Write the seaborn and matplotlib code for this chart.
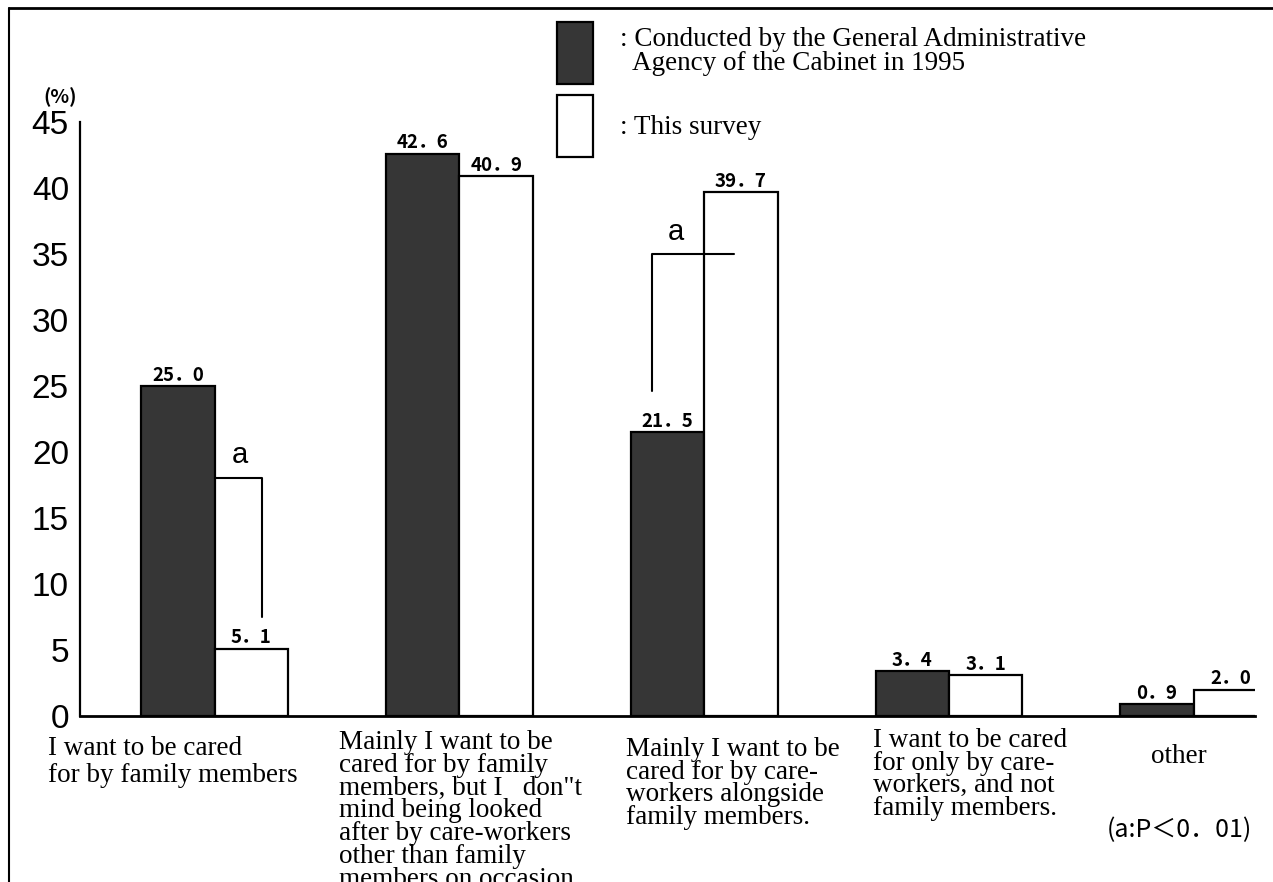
import numpy as np
import pandas as pd
import matplotlib
matplotlib.use("Agg")
import matplotlib.pyplot as plt
import seaborn as sns
from matplotlib.patches import Patch
from matplotlib.lines import Line2D

# data
cat_keys = ["family", "mainly_family", "mainly_care", "care_only", "other"]
cat_labels = [
    "I want to be cared\nfor by family members",
    "Mainly I want to be\ncared for by family\nmembers, but I   don\"t\nmind being looked\n"
    "after by care-workers\nother than family\nmembers on occasion.",
    "Mainly I want to be\ncared for by care-\nworkers alongside\nfamily members.",
    "I want to be cared\nfor only by care-\nworkers, and not\nfamily members.",
    "other",
]
cabinet_1995 = [25.0, 42.6, 21.5, 3.4, 0.9]
this_survey = [5.1, 40.9, 39.7, 3.1, 2.0]
series_names = ["cabinet", "survey"]
legend_labels = [": Conducted by the General Administrative\n  Agency of the Cabinet in 1995",
                 ": This survey"]
yticks = [0, 5, 10, 15, 20, 25, 30, 35, 40, 45]

df = pd.DataFrame({
    "category": cat_keys * 2,
    "series": [series_names[0]] * 5 + [series_names[1]] * 5,
    "value": cabinet_1995 + this_survey,
})

sns.set_style("white")
plt.rcParams["text.color"] = "black"
plt.rcParams["ytick.color"] = "black"
dark = "#363636"
serif = "Liberation Serif"
gothic = ["Noto Sans CJK JP", "DejaVu Sans"]

fig = plt.figure(figsize=(12.73, 8.82), dpi=100)
ax = fig.add_axes([80 / 1273, 1 - 716 / 882, 1175 / 1273, 594 / 882])

sns.barplot(data=df, x="category", y="value", hue="series", order=cat_keys,
            hue_order=series_names, palette=[dark, "white"], saturation=1,
            edgecolor="black", linewidth=1.6, width=0.6, legend=False, ax=ax)

ax.set_xlim(-0.55, 4.25)
ax.set_ylim(0, 45)
ax.set_yticks(yticks)
ax.set_yticklabels([str(t) for t in yticks], fontsize=24, family="Liberation Sans")
ax.tick_params(axis="y", direction="in", length=10, width=1.6, pad=8, colors="black")
ax.set_xticks([])
ax.set_xlabel("")
ax.set_ylabel("")
for s in ["top", "right"]:
    ax.spines[s].set_visible(False)
ax.spines["left"].set_linewidth(1.6)
ax.spines["bottom"].set_linewidth(2)
ax.spines["left"].set_color("black")
ax.spines["bottom"].set_color("black")

# value labels like "25．0"
for cont, vals in zip(ax.containers, [cabinet_1995, this_survey]):
    ax.bar_label(cont, labels=[f"{v:.1f}".replace(".", "．") for v in vals],
                 padding=1, fontsize=13.5, fontweight="bold", family=gothic)

# significance brackets
c_dark, c_white = ax.containers[0], ax.containers[1]
b, w = c_dark[0], c_white[0]
x0 = b.get_x() + b.get_width()
x1 = w.get_x() + 0.65 * w.get_width()
ax.plot([x0, x1, x1], [18, 18, 7.5], color="black", lw=1.5)
ax.text(w.get_x() + 0.35 * w.get_width(), 18.7, "a", fontsize=21,
        family="Liberation Sans", ha="center", va="bottom")

b, w = c_dark[2], c_white[2]
x0 = b.get_x() + 0.29 * b.get_width()
x1 = w.get_x() + 0.41 * w.get_width()
ax.plot([x0, x0, x1], [24.6, 35, 35], color="black", lw=1.5)
ax.text(b.get_x() + 0.62 * b.get_width(), 35.6, "a", fontsize=21,
        family="Liberation Sans", ha="center", va="bottom")

# category labels under the axis
trans = ax.get_xaxis_transform()
offsets = [-0.68, -0.49, -0.32, -0.31]
tops = [-0.034, -0.024, -0.035, -0.020]
spacing = [1.1, 0.88, 0.88, 0.88]
for i in range(4):
    ax.text(i + offsets[i], tops[i], cat_labels[i], transform=trans, ha="left",
            va="top", fontsize=19.5, family=serif, linespacing=spacing[i])
ax.text(4 - 0.06, -0.069, cat_labels[4], transform=trans, ha="center",
        va="center", fontsize=19.5, family=serif)
ax.text(0.936, -0.192, "(a:P＜0．01)", transform=ax.transAxes, ha="center",
        va="center", fontsize=18, family=gothic)
ax.text(-0.017, 1.042, "(%)", transform=ax.transAxes, ha="center",
        va="center", fontsize=14, fontweight="bold", family=gothic)

# legend
handles = [Patch(facecolor=dark, edgecolor="black", lw=1.6),
           Patch(facecolor="white", edgecolor="black", lw=1.6)]
leg = fig.legend(handles, legend_labels, loc="upper left",
                 bbox_to_anchor=(557 / 1273, 1 - 22 / 882), bbox_transform=fig.transFigure,
                 frameon=False, borderpad=0, borderaxespad=0,
                 prop={"family": serif, "size": 19.5}, handlelength=1.33, handleheight=3.15,
                 handletextpad=1.0, labelspacing=0.4)
for t in leg.get_texts():
    t.set_linespacing(0.95)

# outer frame (top and left edges)
fig.add_artist(Line2D([9 / 1273, 9 / 1273], [0, 1 - 8 / 882], transform=fig.transFigure,
                      color="black", lw=1.5))
fig.add_artist(Line2D([9 / 1273, 1], [1 - 8 / 882, 1 - 8 / 882], transform=fig.transFigure,
                      color="black", lw=2))

fig.savefig("out.png", dpi=100, facecolor="white")
